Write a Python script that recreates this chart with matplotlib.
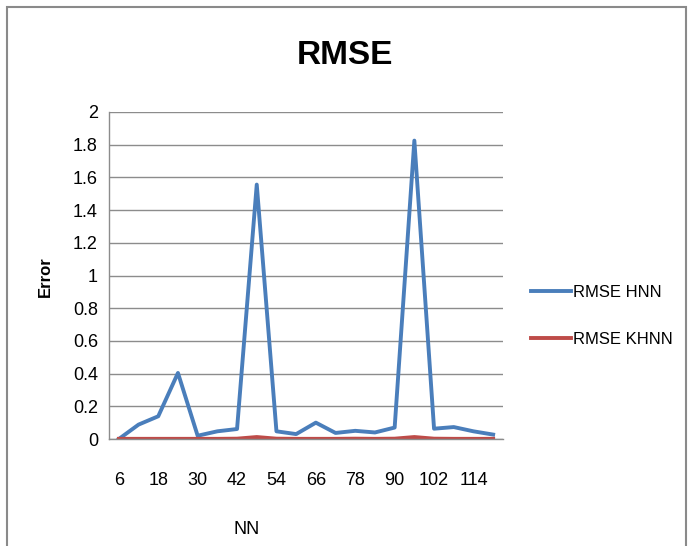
import matplotlib
matplotlib.use('Agg')
import matplotlib.pyplot as plt
from matplotlib import font_manager
from matplotlib.patches import Rectangle

# prefer a narrow face when one is around
names = {f.name for f in font_manager.fontManager.ttflist}
narrow = [n for n in ['Liberation Sans Narrow', 'DejaVu Sans Condensed'] if n in names]
plt.rcParams['font.family'] = narrow + ['Liberation Sans', 'DejaVu Sans']

# network sizes and error values
nn = [6, 12, 18, 24, 30, 36, 42, 48, 54, 60, 66, 72, 78, 84, 90, 96, 102, 108, 114, 120]
rmse_hnn = [0.0, 0.088, 0.139, 0.404, 0.02, 0.047, 0.061, 1.556, 0.047, 0.03,
            0.10, 0.037, 0.05, 0.04, 0.07, 1.825, 0.063, 0.073, 0.047, 0.027]
rmse_khnn = [0.001, 0.001, 0.001, 0.001, 0.001, 0.001, 0.002, 0.012, 0.002, 0.001,
             0.001, 0.001, 0.002, 0.001, 0.002, 0.012, 0.002, 0.001, 0.001, 0.001]
yticks = [0, 0.2, 0.4, 0.6, 0.8, 1, 1.2, 1.4, 1.6, 1.8, 2]

fig = plt.figure(figsize=(6.91, 5.46), dpi=100)
ax = fig.add_axes([109 / 691, 107 / 546, 394 / 691, 327 / 546])

xs = list(range(len(nn)))
ax.plot(xs, rmse_hnn, color='#4A7EBB', lw=2.8, label='RMSE HNN')
ax.plot(xs, rmse_khnn, color='#BE4B48', lw=2.8, label='RMSE KHNN')

ax.set_xlim(-0.5, len(nn) - 0.5)
ax.set_ylim(0, 2)
ax.set_yticks(yticks)
ax.set_yticklabels(['%g' % v for v in yticks], fontsize=13)
ax.set_xticks(xs[::2])
ax.set_xticklabels([str(v) for v in nn[::2]], fontsize=13)
ax.tick_params(length=0, pad=8)
ax.tick_params(axis='x', pad=24)

ax.grid(axis='y', color='#8c8c8c', lw=1)
ax.set_axisbelow(True)
for s in ['top', 'right']:
    ax.spines[s].set_visible(False)
for s in ['left', 'bottom']:
    ax.spines[s].set_color('#8c8c8c')
    ax.spines[s].set_linewidth(1)

fig.text(345 / 691, 1 - 55 / 546, 'RMSE', fontsize=24, fontweight='bold',
         ha='center', va='center')
fig.text(45 / 691, 1 - 277 / 546, 'Error', fontsize=12, fontweight='bold',
         rotation=90, ha='center', va='center')
fig.text(247 / 691, 1 - 530 / 546, 'NN', fontsize=13, ha='center', va='center')

ax.legend(loc='center left', bbox_to_anchor=(531 / 691, 1 - 316 / 546),
          bbox_transform=fig.transFigure, frameon=False, fontsize=12,
          handlelength=2.4, handletextpad=0.1, labelspacing=1.9,
          borderaxespad=0, borderpad=0)

# outer chart frame
fig.patches.append(Rectangle((7 / 691, -0.02), 679 / 691, 1.02 - 7 / 546,
                             transform=fig.transFigure, fill=False,
                             edgecolor='#8a8a8a', lw=1.5))

fig.savefig('out.png', dpi=100)
